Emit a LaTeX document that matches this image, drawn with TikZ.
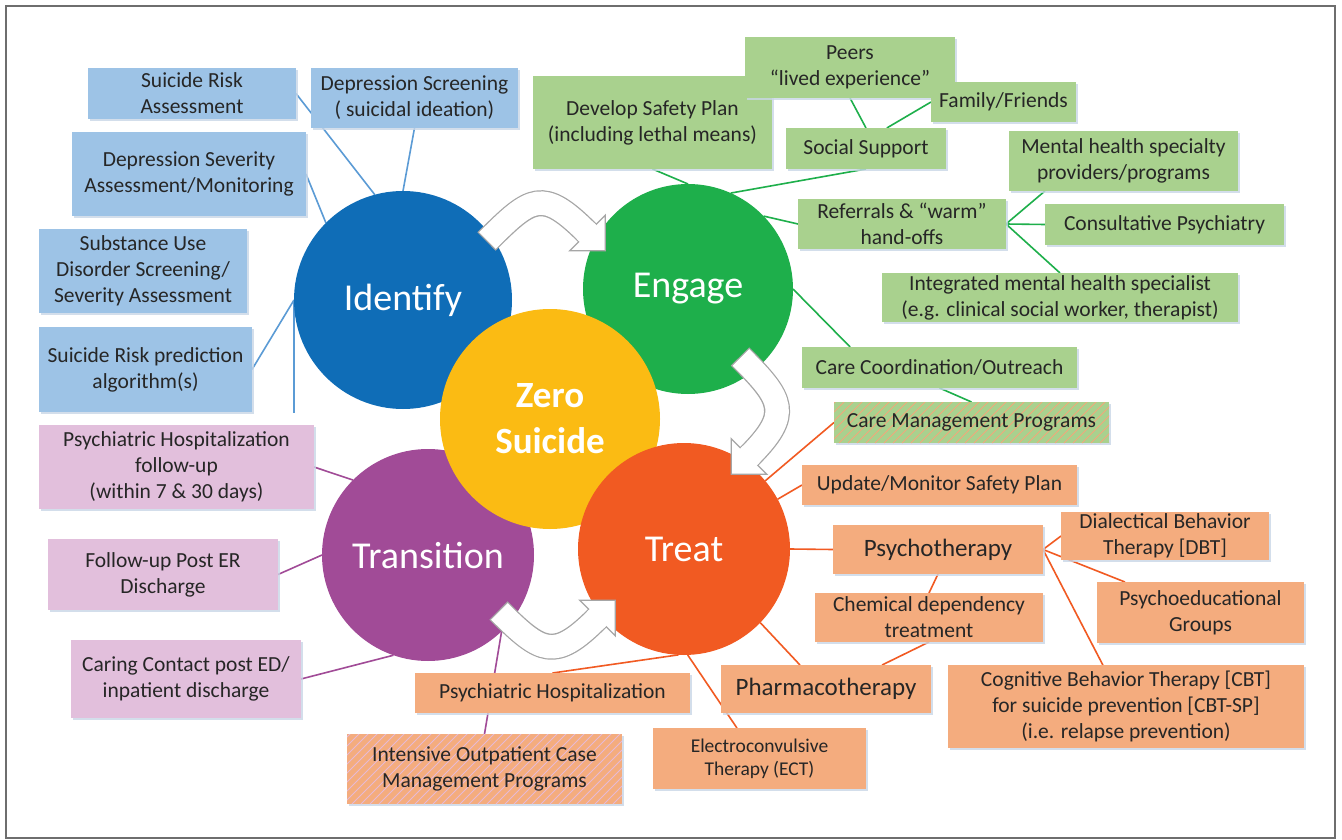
\documentclass[tikz,border=0pt]{standalone}
\usepackage{fontspec}
\setmainfont{Carlito}
\usetikzlibrary{calc,shadows}
\pgfdeclarelayer{bg}
\pgfdeclarelayer{lines}
\pgfsetlayers{bg,lines,main}

\definecolor{idc}{HTML}{0F6DB7}
\definecolor{engc}{HTML}{1EAF4B}
\definecolor{zeroc}{HTML}{FBBB13}
\definecolor{treatc}{HTML}{F15A22}
\definecolor{transc}{HTML}{A14B97}
\definecolor{bluebox}{HTML}{9DC3E6}
\definecolor{greenbox}{HTML}{A9D18E}
\definecolor{pinkbox}{HTML}{E2BFDC}
\definecolor{orangebox}{HTML}{F4AC7E}
\definecolor{blinec}{HTML}{5B9BD5}
\definecolor{glinec}{HTML}{1EAF4B}
\definecolor{plinec}{HTML}{A14B97}
\definecolor{olinec}{HTML}{F15A22}
\definecolor{txtc}{HTML}{262626}
\definecolor{shadc}{HTML}{C9D6E6}
\definecolor{arrc}{HTML}{A6A6A6}
\definecolor{framec}{HTML}{6E6E6E}
\definecolor{hatchor}{HTML}{F2A77A}
\definecolor{hatchpk}{HTML}{E6B9D6}

% box from corner (x1,y1) to corner (x2,y2)
\newcommand\boxat[7]{%
  \pgfmathsetmacro\bw{#5-#3}\pgfmathsetmacro\bh{#6-#4}%
  \node[box,#2,minimum width=\bw pt,minimum height=\bh pt] (#1)
    at ({(#3+#5)/2},{(#4+#6)/2}) {#7};}

\begin{document}
\begin{tikzpicture}[x=1pt,y=-1pt,
  box/.style={inner sep=0pt, outer sep=0pt, align=center, text=txtc,
    font=\fontsize{21.5}{26}\selectfont,
    drop shadow={shadow xshift=1.8pt, shadow yshift=-1.8pt, fill=shadc, opacity=0.8}},
  bluebx/.style={fill=bluebox},
  greenbx/.style={fill=greenbox},
  pinkbx/.style={fill=pinkbox},
  orangebx/.style={fill=orangebox},
  bigtxt/.style={font=\fontsize{25}{30}\selectfont},
  smalltxt/.style={font=\fontsize{19.5}{23}\selectfont},
  hatched/.style={path picture={
    \foreach \i in {-130,-121,...,420}{
      \draw[#1, line width=0.9pt]
        ($(path picture bounding box.south west)+(\i pt,0pt)$) -- ++(130pt,130pt);}}},
  hub/.style={circle, inner sep=0pt, outer sep=0pt, text=white,
    font=\fontsize{38}{46}\selectfont},
  bline/.style={draw=blinec, line width=1.6pt},
  gline/.style={draw=glinec, line width=1.6pt},
  pline/.style={draw=plinec, line width=1.6pt},
  oline/.style={draw=olinec, line width=1.6pt},
  arrowedge/.style={draw=arrc, line width=26pt},
  arrowfill/.style={draw=white, line width=23.4pt},
  arrowhead/.style={fill=white, draw=arrc, line width=1.3pt, line join=miter}
]
\useasboundingbox (0,0) rectangle (1342,840);
\begin{pgfonlayer}{bg}
  \fill[white] (0,0) rectangle (1342,840);
  \draw[framec, line width=1.4pt] (6,6) rectangle (1335,838);
\end{pgfonlayer}

% ---- the five circles ----
\node[hub, fill=idc, minimum size=218pt] (identify) at (403,300) {Identify};
\node[hub, fill=engc, minimum size=210pt] (engage) at (688,289) {Engage};
\node[hub, fill=transc, minimum size=212pt] (transition) at (428,555) {Transition};
\node[hub, fill=zeroc, minimum size=220pt, align=center,
  font=\bfseries\fontsize{37}{46}\selectfont] (zero) at (550,419) {Zero\\Suicide};
\node[hub, fill=treatc, minimum size=212pt] (treat) at (684,549) {Treat};

% ---- curved block arrows between the phases ----
% Identify -> Engage
\draw[arrowedge] (486.5,241.5) .. controls (531.5,196.5) and (542.5,188) .. (587.5,233);
\filldraw[arrowhead] (605.2,215.3) -- (605.2,250.7) -- (569.8,250.7) -- cycle;
\draw[arrowfill, shorten <=1.3pt] (486.5,241.5) .. controls (531.5,196.5) and (542.5,188) .. (587.5,233);
\draw[arrowfill] (585.5,231) -- (589.5,235);
% Engage -> Treat
\draw[arrowedge] (740,356.5) .. controls (783,399.5) and (792,413.5) .. (749,456.5);
\filldraw[arrowhead] (731.3,438.8) -- (731.3,474.2) -- (766.7,474.2) -- cycle;
\draw[arrowfill, shorten <=1.3pt] (740,356.5) .. controls (783,399.5) and (792,413.5) .. (749,456.5);
\draw[arrowfill] (751,454.5) -- (747,458.5);
% Transition -> Treat
\draw[arrowedge] (498.5,610.5) .. controls (541.5,653.5) and (554.5,661) .. (597.5,618);
\filldraw[arrowhead] (579.8,600.3) -- (615.2,600.3) -- (615.2,635.7) -- cycle;
\draw[arrowfill, shorten <=1.3pt] (498.5,610.5) .. controls (541.5,653.5) and (554.5,661) .. (597.5,618);
\draw[arrowfill] (595.5,620) -- (599.5,616);

% ---- Identify boxes ----
\boxat{sra}{bluebx}{88}{68}{296}{119}{Suicide Risk\\Assessment}
\boxat{dscr}{bluebx}{311}{68}{518}{128}{Depression Screening\\( suicidal ideation)}
\boxat{dsev}{bluebx}{72}{132}{306}{216}{Depression Severity\\Assessment/Monitoring}
\boxat{sud}{bluebx}{39}{229}{247}{313}{Substance Use\\Disorder Screening/\\Severity Assessment}
\boxat{srp}{bluebx}{39}{327}{252}{412}{Suicide Risk prediction\\algorithm(s)}

% ---- Engage boxes ----
\boxat{develop}{greenbx}{533}{76}{772}{169}{Develop Safety Plan\\(including lethal means)}
\boxat{peers}{greenbx}{745}{37}{955}{98}{Peers\\“lived experience”}
\boxat{family}{greenbx}{931}{82}{1076}{122}{Family/Friends}
\boxat{social}{greenbx}{786}{128}{946}{169}{Social Support}
\boxat{referrals}{greenbx}{798}{199}{1006}{249}{Referrals \& “warm”\\hand-offs}
\boxat{mental}{greenbx}{1009}{131}{1238}{191}{Mental health specialty\\providers/programs}
\boxat{consult}{greenbx}{1045}{204}{1284}{245}{Consultative Psychiatry}
\boxat{integ}{greenbx}{882}{273}{1238}{322}{Integrated mental health specialist\\(e.g. clinical social worker, therapist)}
\boxat{coord}{greenbx}{802}{347}{1077}{388}{Care Coordination/Outreach}
\boxat{mgmt}{greenbx,hatched=hatchor}{834}{402}{1109}{443}{Care Management Programs}

% ---- Transition boxes ----
\boxat{phf}{pinkbx}{39}{425}{314}{509}{Psychiatric Hospitalization\\follow-up\\(within 7 \& 30 days)}
\boxat{fuer}{pinkbx}{48}{539}{278}{610}{Follow-up Post ER\\Discharge}
\boxat{caring}{pinkbx}{71}{640}{301}{718}{Caring Contact post ED/\\inpatient discharge}

% ---- Treat boxes ----
\boxat{update}{orangebx}{802}{465}{1077}{505}{Update/Monitor Safety Plan}
\boxat{psycho}{orangebx,bigtxt}{833}{525}{1043}{574}{Psychotherapy}
\boxat{dbt}{orangebx}{1061}{512}{1269}{560}{Dialectical Behavior\\Therapy [DBT]}
\boxat{psyed}{orangebx}{1097}{582}{1304}{643}{Psychoeducational\\Groups}
\boxat{chem}{orangebx}{815}{593}{1043}{642}{Chemical dependency\\treatment}
\boxat{pharma}{orangebx,bigtxt}{721}{665}{931}{713}{Pharmacotherapy}
\boxat{cbt}{orangebx}{948}{665}{1304}{748}{Cognitive Behavior Therapy [CBT]\\for suicide prevention [CBT-SP]\\(i.e. relapse prevention)}
\boxat{hosp}{orangebx}{415}{673}{690}{713}{Psychiatric Hospitalization}
\boxat{ect}{orangebx,smalltxt}{653}{728}{866}{789}{Electroconvulsive\\Therapy (ECT)}
\boxat{iop}{orangebx,hatched=hatchpk}{347}{734}{622}{804}{Intensive Outpatient Case\\Management Programs}

\coordinate (idtail) at (294,413);

% ---- connectors ----
\begin{pgfonlayer}{lines}
  % Identify
  \draw[bline] (sra.east) -- (identify.105);
  \draw[bline] (dscr.south) -- (identify.90);
  \draw[bline] (dsev.east) -- (identify.135);
  \draw[bline] (srp.east) -- (identify.180);
  \draw[bline] (identify.180) -- (idtail);
  % Engage
  \draw[gline] (develop.south) -- (engage.90);
  \draw[gline] (social.south) -- (engage.66);
  \draw[gline] (peers.south) -- (social.north);
  \draw[gline] (family.west) -- ($(social.north west)!0.63!(social.north east)$);
  \draw[gline] (engage.44) -- (referrals.west);
  \draw[gline] (referrals.east) -- ($(mental.south west)!0.157!(mental.south east)$);
  \draw[gline] (referrals.east) -- (consult.west);
  \draw[gline] (referrals.east) -- (integ.north);
  \draw[gline] (engage.0) -- ($(coord.north west)!0.175!(coord.north east)$);
  \draw[gline] (coord.south) -- (mgmt.north);
  % Transition
  \draw[pline] (phf.east) -- (transition.135);
  \draw[pline] (fuer.east) -- (transition.180);
  \draw[pline] (caring.east) -- (transition.251);
  \draw[pline] (transition.-46) -- (iop.north);
  % Treat
  \draw[oline] (treat.40) -- (mgmt.west);
  \draw[oline] (treat.28) -- (update.west);
  \draw[oline] (treat.0) -- (psycho.west);
  \draw[oline] (treat.-44) -- ($(pharma.north west)!0.376!(pharma.north east)$);
  \draw[oline] (treat.-88) -- ($(ect.north west)!0.394!(ect.north east)$);
  \draw[oline] (treat.-93) -- (hosp.north);
  \draw[oline] (psycho.east) -- (dbt.west);
  \draw[oline] (psycho.east) -- ($(psyed.north west)!0.135!(psyed.north east)$);
  \draw[oline] (psycho.east) -- ($(cbt.north west)!0.435!(cbt.north east)$);
  \draw[oline] (psycho.south) -- (chem.north);
  \draw[oline] (chem.south) -- ($(pharma.north west)!0.767!(pharma.north east)$);
\end{pgfonlayer}
\end{tikzpicture}
\end{document}
